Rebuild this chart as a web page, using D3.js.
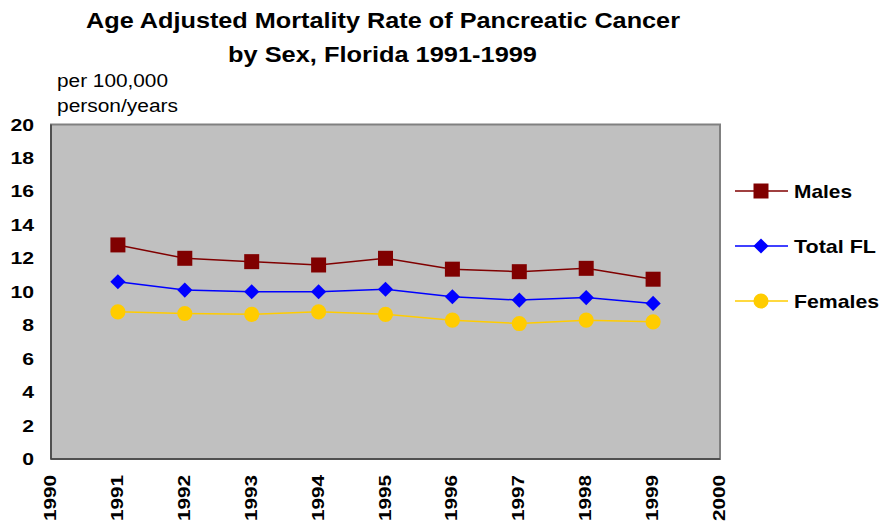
<!DOCTYPE html>
<head>
  <meta charset="utf-8">
  <script src="https://d3js.org/d3.v7.min.js"></script>
  <style>
    body { margin: 0; background: #fff; }
    text { font-family: Arial, "Liberation Sans", sans-serif; fill: #000; }
    .tick-lbl { font-size: 17px; font-weight: bold; }
  </style>
</head>
<body>
<script>
  // data
  var years = [1991, 1992, 1993, 1994, 1995, 1996, 1997, 1998, 1999];
  var males = [12.8, 12.0, 11.8, 11.6, 12.0, 11.35, 11.2, 11.4, 10.75];
  var totalFL = [10.6, 10.1, 10.0, 10.0, 10.15, 9.7, 9.5, 9.65, 9.3];
  var females = [8.8, 8.7, 8.65, 8.8, 8.65, 8.3, 8.1, 8.3, 8.2];
  var yTicks = [0, 2, 4, 6, 8, 10, 12, 14, 16, 18, 20];
  var xTicks = [1990, 1991, 1992, 1993, 1994, 1995, 1996, 1997, 1998, 1999, 2000];
  var seriesNames = ["Males", "Total FL", "Females"];

  var w = 880, h = 523;
  var plotLeft = 51, plotRight = 720, plotTop = 124.5, plotBottom = 459;

  // diamond = square turned 45 degrees
  var series = [
    { name: seriesNames[0], values: males, color: "#800000", shape: d3.symbolSquare, size: 225, rot: 0 },
    { name: seriesNames[1], values: totalFL, color: "#0000ff", shape: d3.symbolSquare, size: 115, rot: 45 },
    { name: seriesNames[2], values: females, color: "#ffcc00", shape: d3.symbolCircle, size: 180, rot: 0 }
  ];

  var svg = d3.select("body").append("svg")
    .attr("width", w)
    .attr("height", h);

  var xScale = d3.scaleLinear().domain([1990, 2000]).range([plotLeft, plotRight]);
  var yScale = d3.scaleLinear().domain([0, 20]).range([plotBottom, plotTop]);

  // plot area
  svg.append("rect")
    .attr("x", plotLeft).attr("y", plotTop)
    .attr("width", plotRight - plotLeft).attr("height", plotBottom - plotTop)
    .attr("fill", "#c0c0c0")
    .attr("stroke", "#808080")
    .attr("stroke-width", 2);

  // axis lines (no tick marks)
  svg.append("line")
    .attr("x1", plotLeft).attr("x2", plotLeft).attr("y1", plotTop).attr("y2", plotBottom)
    .attr("stroke", "#404040").attr("stroke-width", 1.5);
  svg.append("line")
    .attr("x1", plotLeft).attr("x2", plotRight).attr("y1", plotBottom).attr("y2", plotBottom)
    .attr("stroke", "#404040").attr("stroke-width", 1.5);

  // y tick labels
  svg.selectAll(".ylbl")
    .data(yTicks)
    .enter()
    .append("text")
    .attr("class", "tick-lbl")
    .attr("x", 34)
    .attr("y", function(d) { return yScale(d) + 6; })
    .attr("text-anchor", "end")
    .attr("textLength", function(d) { return String(d).length * 11.8; })
    .attr("lengthAdjust", "spacingAndGlyphs")
    .text(function(d) { return d; });

  // x tick labels, rotated
  svg.selectAll(".xlbl")
    .data(xTicks)
    .enter()
    .append("text")
    .attr("class", "tick-lbl")
    .attr("transform", function(d) { return "translate(" + (xScale(d) + 5) + ",475) rotate(-90)"; })
    .attr("text-anchor", "end")
    .attr("textLength", 46)
    .attr("lengthAdjust", "spacingAndGlyphs")
    .text(function(d) { return d; });

  // series lines + markers
  var line = d3.line()
    .x(function(d, i) { return xScale(years[i]); })
    .y(function(d) { return yScale(d); });

  series.forEach(function(s) {
    svg.append("path")
      .datum(s.values)
      .attr("d", line)
      .attr("fill", "none")
      .attr("stroke", s.color)
      .attr("stroke-width", 1.5);
    svg.selectAll(null)
      .data(s.values)
      .enter()
      .append("path")
      .attr("d", d3.symbol().type(s.shape).size(s.size))
      .attr("transform", function(d, i) {
        return "translate(" + xScale(years[i]) + "," + yScale(d) + ") rotate(" + s.rot + ")";
      })
      .attr("fill", s.color);
  });

  // legend
  var legY = [191, 246, 301];
  var legW = [58, 82, 85];
  series.forEach(function(s, i) {
    var g = svg.append("g").attr("transform", "translate(0," + legY[i] + ")");
    g.append("line")
      .attr("x1", 735).attr("x2", 788)
      .attr("stroke", s.color).attr("stroke-width", 1.5);
    g.append("path")
      .attr("d", d3.symbol().type(s.shape).size(s.size))
      .attr("transform", "translate(761,0) rotate(" + s.rot + ")")
      .attr("fill", s.color);
    g.append("text")
      .attr("x", 794).attr("y", 7)
      .attr("font-size", 19).attr("font-weight", "bold")
      .attr("textLength", legW[i])
      .attr("lengthAdjust", "spacingAndGlyphs")
      .text(s.name);
  });

  // title
  svg.append("text")
    .attr("x", 86).attr("y", 28)
    .attr("font-size", 22).attr("font-weight", "bold")
    .attr("textLength", 594).attr("lengthAdjust", "spacingAndGlyphs")
    .text("Age Adjusted Mortality Rate of Pancreatic Cancer");
  svg.append("text")
    .attr("x", 228).attr("y", 62)
    .attr("font-size", 22).attr("font-weight", "bold")
    .attr("textLength", 309).attr("lengthAdjust", "spacingAndGlyphs")
    .text("by Sex, Florida 1991-1999");

  // unit label
  svg.append("text")
    .attr("x", 57).attr("y", 87)
    .attr("font-size", 18)
    .attr("textLength", 111).attr("lengthAdjust", "spacingAndGlyphs")
    .text("per 100,000");
  svg.append("text")
    .attr("x", 57).attr("y", 112)
    .attr("font-size", 18)
    .attr("textLength", 121).attr("lengthAdjust", "spacingAndGlyphs")
    .text("person/years");
</script>
</body>
